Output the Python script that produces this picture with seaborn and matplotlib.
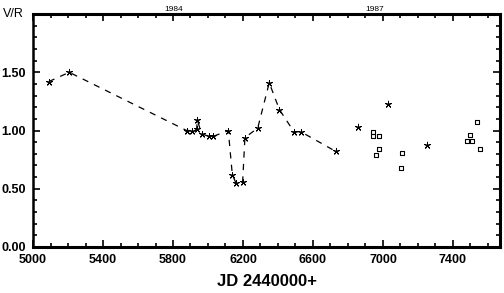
import numpy as np
import pandas as pd
import matplotlib
matplotlib.use("Agg")
import matplotlib.pyplot as plt
import seaborn as sns
from matplotlib.ticker import MultipleLocator

# dashed light curve with star markers
jd_line = [5090, 5207, 5878, 5907, 5935, 5939, 5964, 6008, 6030, 6116,
           6139, 6160, 6198, 6211, 6284, 6350, 6408, 6491, 6530, 6731]
vr_line = [1.42, 1.50, 1.00, 1.00, 1.01, 1.09, 0.97, 0.95, 0.95, 1.00,
           0.62, 0.55, 0.56, 0.94, 1.02, 1.41, 1.18, 0.99, 0.99, 0.82]

# isolated stars
jd_star = [6855, 7030, 7250]
vr_star = [1.03, 1.23, 0.88]

# open squares
jd_sq = [6945, 6945, 6975, 6960, 6979, 7107, 7103, 7478, 7507, 7497, 7535, 7554]
vr_sq = [0.99, 0.95, 0.95, 0.79, 0.84, 0.81, 0.68, 0.91, 0.91, 0.96, 1.07, 0.84]

x_ticks = [5000, 5400, 5800, 6200, 6600, 7000, 7400]
y_ticks = [0.0, 0.5, 1.0, 1.5]
y_ticklabels = ["0.00", "0.50", "1.00", "1.50"]

year_labels = ["1984", "1987"]
year_pos = [5805, 6950]

sns.set_style("ticks")
plt.rcParams['font.family'] = ['Liberation Sans', 'DejaVu Sans']
plt.rcParams['text.color'] = 'black'
plt.rcParams['xtick.color'] = 'black'
plt.rcParams['ytick.color'] = 'black'
plt.rcParams['axes.labelcolor'] = 'black'
plt.rcParams['axes.edgecolor'] = 'black'

fig = plt.figure(figsize=(5.04, 2.93), dpi=100)
ax = fig.add_axes([0.0655, 0.157, 0.927, 0.795])

df_line = pd.DataFrame({'JD': jd_line, 'VR': vr_line})
sns.lineplot(data=df_line, x='JD', y='VR', sort=False, estimator=None, ax=ax,
             color='black', lw=0.9, linestyle=(0, (5, 5)),
             marker=(5, 2, 0), markersize=5, markeredgewidth=0.7,
             markeredgecolor='black')

sns.scatterplot(x=jd_star, y=vr_star, ax=ax, marker=(5, 2, 0), s=22,
                color='black', linewidth=0.7, edgecolor='black')
sns.scatterplot(x=jd_sq, y=vr_sq, ax=ax, marker='s', s=10,
                facecolor='white', edgecolor='black', linewidth=0.8)

ax.set_xlim(5000, 7670)
ax.set_ylim(0, 2.0)
ax.set_xticks(x_ticks)
ax.xaxis.set_minor_locator(MultipleLocator(100))
ax.yaxis.set_minor_locator(MultipleLocator(0.1))
ax.set_yticks(y_ticks)
ax.set_yticklabels(y_ticklabels)
ax.tick_params(which='both', direction='in', top=True, right=True,
               labelsize=9, width=1.2)
ax.tick_params(which='major', length=5, pad=5)
ax.tick_params(which='minor', length=3)
for lab in ax.get_xticklabels() + ax.get_yticklabels():
    lab.set_fontweight('bold')
for sp in ax.spines.values():
    sp.set_linewidth(2.2)
    sp.set_visible(True)
ax.spines['left'].set_linewidth(1.8)

ax.set_xlabel("JD 2440000+", fontsize=12, fontweight='bold', labelpad=6)
ax.set_ylabel("")
fig.text(0.005, 0.952, "V/R", fontsize=9, va='center', ha='left')

for lab, pos in zip(year_labels, year_pos):
    ax.text(pos, 1.005, lab, transform=ax.get_xaxis_transform(),
            fontsize=6, ha='center', va='bottom')

fig.savefig("out.png", dpi=100)
